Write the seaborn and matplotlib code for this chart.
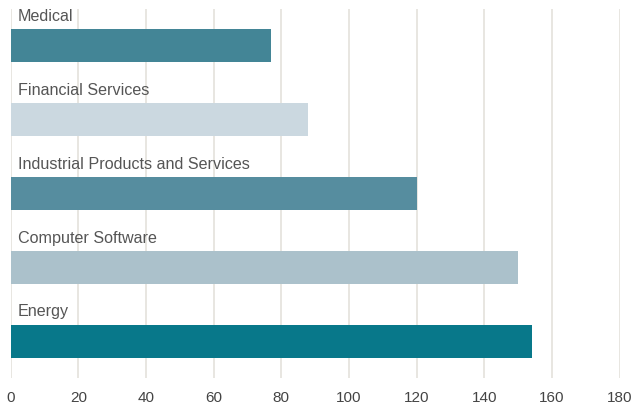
import matplotlib
matplotlib.use("Agg")
import matplotlib.pyplot as plt
import matplotlib.transforms as mtransforms
import seaborn as sns
import pandas as pd

# Sector values
categories = ["Medical", "Financial Services", "Industrial Products and Services",
              "Computer Software", "Energy"]
values = [77, 88, 120, 150, 154]
bar_colors = ["#438596", "#cbd8e0", "#568d9f", "#abc1cb", "#08788a"]
x_ticks = [0, 20, 40, 60, 80, 100, 120, 140, 160, 180]

sns.set_theme(style="white")
plt.rcParams["font.family"] = ["Liberation Sans", "DejaVu Sans"]

df = pd.DataFrame({"sector": categories, "value": values})

fig = plt.figure(figsize=(6.35, 4.08), dpi=100)
ax = fig.add_axes([0.0169, 0.0735, 0.9588, 0.9045])

# vertical grid drawn beneath the bars
for t in x_ticks:
    ax.axvline(t, color="#e6e4de", lw=1.3, zorder=0)

sns.barplot(data=df, x="value", y="sector", hue="sector", palette=bar_colors,
            order=categories, hue_order=categories, width=0.45, orient="h",
            legend=False, saturation=1, linewidth=0, edgecolor="none",
            ax=ax, zorder=2)

ax.set_xlim(0, 180)
ax.set_ylim(4.5, -0.5)
ax.set_xticks(x_ticks)
ax.set_xticklabels([str(t) for t in x_ticks], fontsize=11, color="#444444")
ax.tick_params(axis="x", length=0, pad=9)
ax.set_yticks([])
ax.set_xlabel("")
ax.set_ylabel("")
for s in ax.spines.values():
    s.set_visible(False)

# category labels sit just above each bar
offset = mtransforms.offset_copy(ax.transData, fig=fig, x=7, y=0, units="dots")
for i, name in enumerate(categories):
    ax.text(0, i - 0.335, name, transform=offset, ha="left", va="baseline",
            fontsize=11.6, color="#555555", zorder=3)

fig.savefig("out.png", dpi=100)
